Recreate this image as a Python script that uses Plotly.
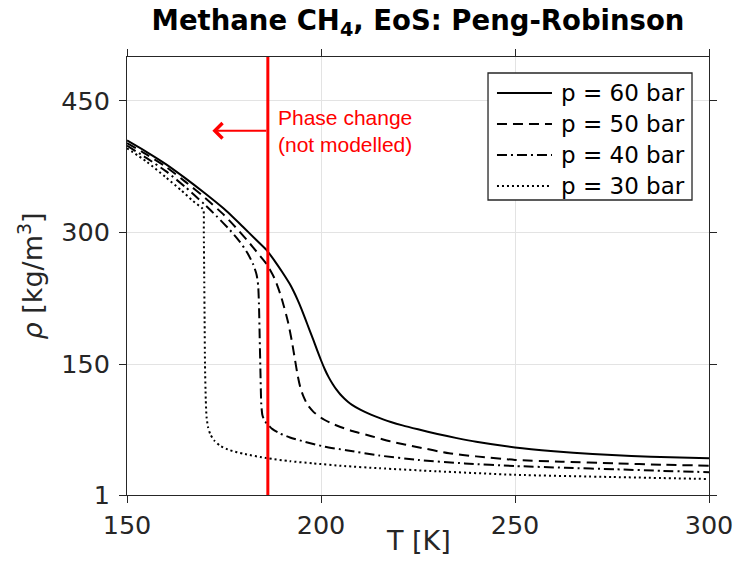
import plotly.graph_objects as go

# Methane density vs temperature at four pressures (Peng-Robinson EoS)
T_60 = [150, 155, 160, 165, 170, 175, 180, 183, 186, 188, 190, 192, 193, 194, 195, 196,
        197, 198, 199, 200, 201, 202, 203, 204, 205, 206, 207, 208, 210, 212, 214, 216,
        218, 221, 225, 230, 235, 240, 250, 260, 270, 280, 290, 300]
RHO_60 = [405, 392, 378, 362, 345, 327, 306, 293, 280, 268, 255, 241, 232.5, 223, 212.5, 201,
          189.5, 178, 166, 154.5, 144, 135, 127.5, 121, 115.5, 111, 107, 103.7, 98.5, 94.2, 90.5, 87.2,
          84.2, 80.3, 75.8, 70.5, 65.8, 61.6, 55.2, 50.9, 47.7, 45.5, 44, 42.8]

T_50 = [150, 155, 160, 165, 170, 175, 178, 181, 184, 186, 188, 189.5, 190.5, 191.5, 192.5,
        193.3, 194, 194.7, 195.5, 196.5, 198, 200, 202.5, 205, 208, 213, 218, 225, 233,
        240, 250, 262, 276, 288, 300]
RHO_50 = [402, 389, 375, 358, 340, 320, 306, 291, 275, 264, 248, 230, 215, 198, 176,
          155, 137, 123, 113, 104, 96, 89, 83, 78.5, 74, 68, 62, 55.5, 48.5,
          45, 41, 39, 37, 35.5, 34.4]

T_40 = [150, 155, 160, 165, 170, 173, 176.5, 179, 181, 182.5, 183.4, 183.8, 184.0, 184.2,
        184.4, 184.6, 184.9, 185.4, 186, 187.5, 189.5, 192, 196, 201, 206.5, 215, 225,
        237, 250, 263, 276, 288, 300]
RHO_40 = [399, 385, 370, 352, 332, 319, 303, 290, 277, 264, 252, 240, 220, 180,
          140, 105, 92, 86, 82.7, 76, 71, 66.5, 61.5, 56, 52, 46, 41,
          37, 34, 32, 30.3, 28.5, 27]

T_30 = [150, 155, 160, 164, 167, 169.3, 169.7, 169.8, 169.9, 170.0, 170.1, 170.3, 170.5,
        170.9, 171.5, 172.5, 174, 176.5, 180, 186, 192, 198, 206, 215, 230, 250, 275, 300]
RHO_30 = [396, 381, 363, 348, 336, 328, 326, 300, 250, 200, 150, 110, 90,
          78, 70, 63, 57, 52, 48, 43, 39.5, 37, 34, 31.5, 28, 24, 21.5, 19.2]

PRESSURES = [60, 50, 40, 30]
SERIES = [(T_60, RHO_60), (T_50, RHO_50), (T_40, RHO_40), (T_30, RHO_30)]
DASHES = ["solid", "10px,6px", "10px,4px,2px,4px", "2px,3px"]

X_TICKS = [150, 200, 250, 300]
Y_TICKS = [1, 150, 300, 450]
X_RANGE = [150, 300]
Y_RANGE = [1, 500]

# phase-change marker
PHASE_T = 186.3
ARROW_TIP_T = 172
ARROW_RHO = 416

FONT = "DejaVu Sans"
INK = "#262626"
RED = "#ff0000"

fig = go.Figure()
for p, (t, rho), dash in zip(PRESSURES, SERIES, DASHES):
    fig.add_trace(go.Scatter(
        x=t, y=rho, mode="lines", name=f"p = {p} bar",
        line=dict(color="black", width=2, dash=dash, shape="spline", smoothing=0.6),
        showlegend=False,
    ))

axis_common = dict(
    showline=True, linecolor=INK, linewidth=1, mirror="ticks",
    ticks="outside", ticklen=7, tickwidth=1, tickcolor=INK,
    showgrid=True, gridcolor="#e3e3e3", gridwidth=1,
    zeroline=False, tickfont=dict(family=FONT, size=25.5, color=INK),
)

fig.update_xaxes(range=X_RANGE, tickvals=X_TICKS, **axis_common)
fig.update_yaxes(range=Y_RANGE, tickvals=Y_TICKS, ticklabelstandoff=4,
                 title=dict(text="<i>ρ</i> [kg/m<sup>3</sup>]",
                            font=dict(family=FONT, size=27, color=INK), standoff=10),
                 **axis_common)

shapes = [dict(type="line", xref="x", yref="paper", x0=PHASE_T, x1=PHASE_T, y0=0, y1=1,
               line=dict(color=RED, width=3), layer="above")]
annotations = [
    # x-axis title
    dict(x=0.5, y=-0.105, xref="paper", yref="paper", xanchor="center", yanchor="middle",
         showarrow=False, text="T [K]", font=dict(family=FONT, size=27, color=INK)),
    dict(x=ARROW_TIP_T, y=ARROW_RHO, ax=PHASE_T, ay=ARROW_RHO, xref="x", yref="y",
         axref="x", ayref="y", text="", showarrow=True, arrowhead=4, arrowsize=1.5,
         arrowwidth=2, arrowcolor=RED),
    dict(x=PHASE_T, y=ARROW_RHO, xref="x", yref="y", xanchor="left", yanchor="middle",
         xshift=8, yshift=0, showarrow=False, align="left",
         text="Phase change<br>(not modelled)",
         font=dict(family="Liberation Sans", size=21, color=RED)),
]

# legend box drawn in paper coordinates
LEG_X0, LEG_X1, LEG_Y0, LEG_Y1 = 0.6203, 0.9708, 0.6735, 0.9635
SAMPLE_X0, SAMPLE_X1, LABEL_X = 0.6357, 0.7302, 0.742
ROW_Y = [0.9178, 0.8470, 0.7763, 0.7055]
shapes.append(dict(type="rect", xref="paper", yref="paper", x0=LEG_X0, x1=LEG_X1,
                   y0=LEG_Y0, y1=LEG_Y1, line=dict(color=INK, width=1.3),
                   fillcolor="white", layer="above"))
for p, dash, ry in zip(PRESSURES, DASHES, ROW_Y):
    shapes.append(dict(type="line", xref="paper", yref="paper", x0=SAMPLE_X0, x1=SAMPLE_X1,
                       y0=ry, y1=ry, line=dict(color="black", width=2, dash=dash),
                       layer="above"))
    annotations.append(dict(x=LABEL_X, y=ry, xref="paper", yref="paper", xanchor="left",
                            yanchor="middle", showarrow=False, text=f"p = {p} bar",
                            font=dict(family=FONT, size=23, color="black")))

fig.update_layout(
    width=744, height=577,
    margin=dict(l=127, r=35, t=57, b=82),
    paper_bgcolor="white", plot_bgcolor="white",
    title=dict(text="<b>Methane CH<sub>4</sub>, EoS: Peng-Robinson</b>",
               x=0.5, xref="paper", y=1 - 11 / 577, yref="container", yanchor="top",
               font=dict(family=FONT, size=27.5, color="black")),
    shapes=shapes, annotations=annotations, showlegend=False,
)

fig.write_html("out.html")
